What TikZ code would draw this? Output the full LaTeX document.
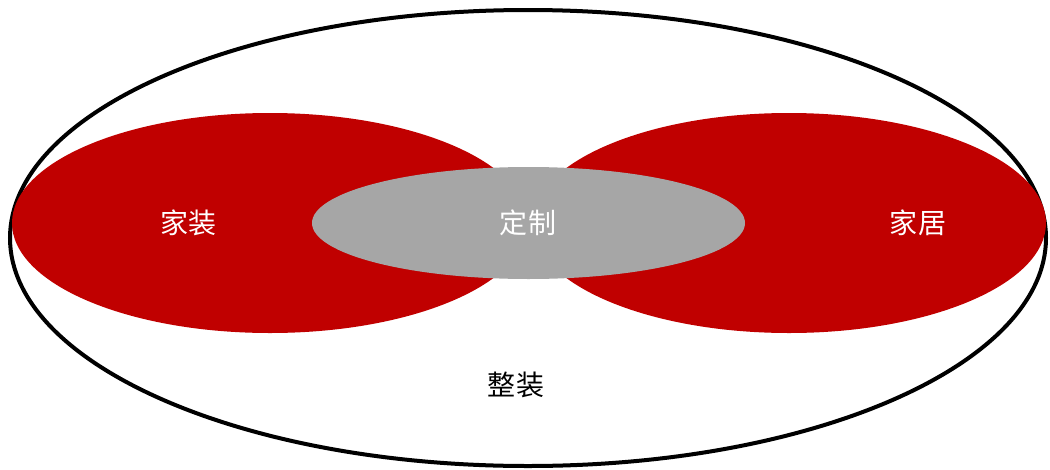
\documentclass[tikz,border=0pt]{standalone}
\usepackage{fontspec}
\newfontfamily\cjk{Noto Sans CJK SC}
\usetikzlibrary{shapes.geometric}
\definecolor{myred}{HTML}{C00000}
\definecolor{mygray}{HTML}{A6A6A6}
\tikzset{
  blob/.style={ellipse, inner sep=0pt, outer sep=0pt},
  lbl/.style={font=\cjk\fontsize{28}{30}\selectfont, inner sep=0pt}
}
\begin{document}
\begin{tikzpicture}[x=1pt,y=-1pt]
\useasboundingbox (0,0) rectangle (1050,469);
\node[blob, draw=black, line width=4pt, minimum width=1036pt, minimum height=456pt] (outer) at (528,238) {};
\node[blob, fill=myred, minimum width=516pt, minimum height=220pt] (left) at (270,223) {};
\node[blob, fill=myred, minimum width=514pt, minimum height=220pt] (right) at (789,223) {};
\node[blob, fill=mygray, minimum width=433pt, minimum height=112pt] (mid) at (528.5,223) {};
\node[lbl, text=white] (tl) at (188.5,223) {家\kern1pt 装};
\node[lbl, text=white] (tm) at (528,223) {定\kern1pt 制};
\node[lbl, text=white] (tr) at (918,223) {家\kern1pt 居};
\node[lbl, text=black] (tb) at (516,385) {整\kern1pt 装};
\end{tikzpicture}
\end{document}
